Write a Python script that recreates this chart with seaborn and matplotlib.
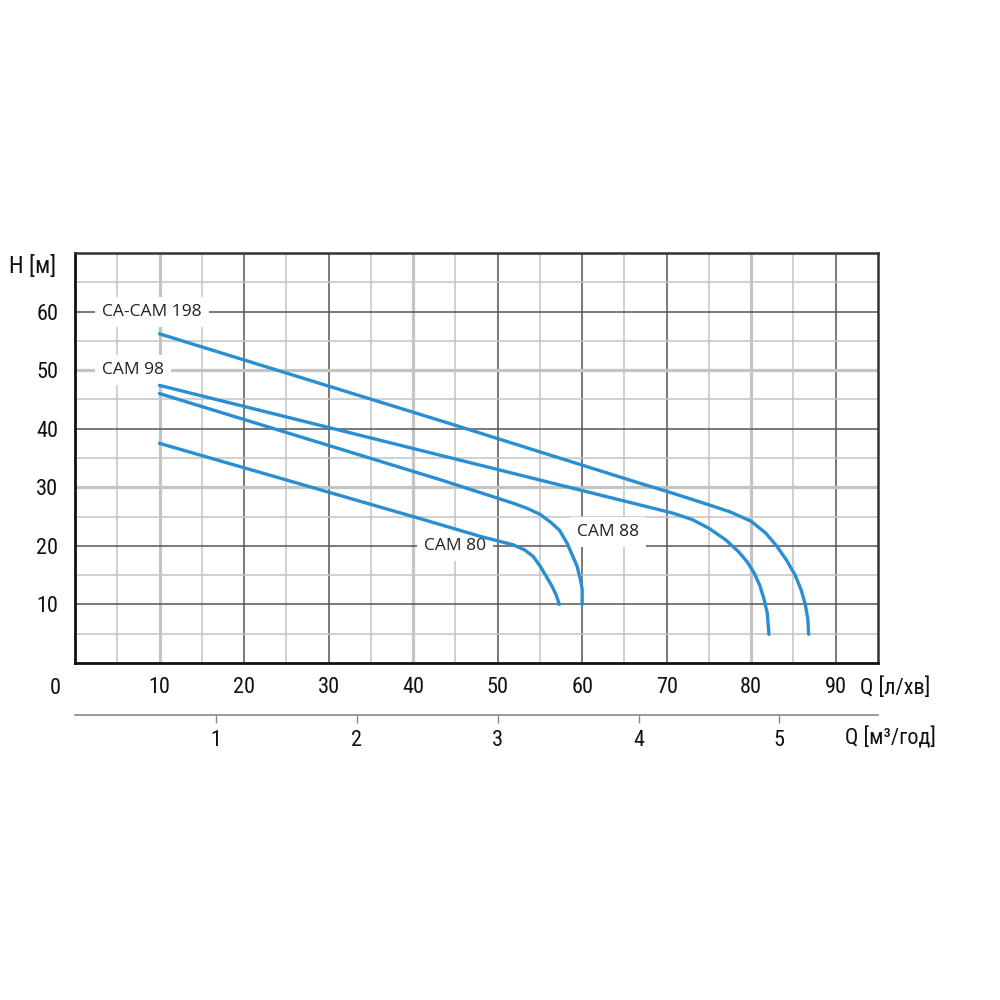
import numpy as np
import pandas as pd
import matplotlib
matplotlib.use("Agg")
import matplotlib.pyplot as plt
from matplotlib import font_manager
import seaborn as sns

# pump curves: Q [l/min] vs H [m]
cam198_q = [10, 44.3, 66.8, 70.7, 75.0, 77.5, 80.0, 81.7, 83.0, 84.2, 85.2, 85.9, 86.4, 86.7, 86.8]
cam198_h = [56.2, 40.9, 30.7, 29.0, 27.0, 25.8, 24.2, 22.2, 20.0, 17.5, 15.0, 12.5, 10.0, 7.5, 4.9]

cam98_q = [10, 66.8, 70.7, 73.0, 75.0, 77.0, 78.5, 79.5, 80.3, 81.0, 81.5, 81.9, 82.1]
cam98_h = [47.4, 27.0, 25.6, 24.5, 23.0, 21.0, 19.0, 17.3, 15.5, 13.3, 11.0, 8.5, 4.9]

cam88_q = [10, 43.2, 51.8, 53.5, 55.0, 56.3, 57.3, 58.2, 58.9, 59.4, 59.7, 59.9, 60.0, 60.0]
cam88_h = [46.0, 31.3, 27.3, 26.4, 25.4, 24.0, 22.7, 20.5, 18.2, 16.5, 14.8, 13.5, 12.5, 10.0]

cam80_q = [10, 40.0, 48.0, 51.8, 53.2, 54.2, 55.0, 55.75, 56.4, 56.9, 57.3]
cam80_h = [37.5, 25.0, 21.6, 20.2, 19.3, 18.2, 16.6, 14.8, 13.2, 11.7, 10.0]

curves = [("CA-CAM 198", cam198_q, cam198_h),
          ("CAM 98", cam98_q, cam98_h),
          ("CAM 88", cam88_q, cam88_h),
          ("CAM 80", cam80_q, cam80_h)]

# label text and where its left edge sits (data coords)
label_names = ["CA-CAM 198", "CAM 98", "CAM 88", "CAM 80"]
label_x = [3.2, 3.2, 59.4, 41.3]
label_y = [60.0, 50.0, 22.4, 20.0]

q_ticks = [10, 20, 30, 40, 50, 60, 70, 80, 90]
h_ticks = [10, 20, 30, 40, 50, 60]
m3_ticks = [1, 2, 3, 4, 5]

sns.set_style("white")

def pick_font():
    names = {f.name for f in font_manager.fontManager.ttflist}
    for cand in ["Liberation Sans Narrow", "Roboto Condensed", "Open Sans Condensed", "Roboto"]:
        if cand in names:
            return cand
    return "DejaVu Sans"

tick_font = pick_font()
plt.rcParams["font.family"] = [tick_font, "DejaVu Sans"]

blue = "#2a8ed4"
dark = "#555555"
light = "#c4c4c4"

fig = plt.figure(figsize=(10, 10), dpi=100)
ax = fig.add_axes([0.075, 0.337, 0.803, 0.41])
ax.set_xlim(0, 95)
ax.set_ylim(0, 70)

# grid: every 5 light, every 10 dark, a few heavier light ones
for v in np.arange(5, 95, 5):
    if v in (10, 40, 80):
        ax.axvline(v, color=light, lw=2.3, zorder=1)
    elif v % 10 == 0:
        ax.axvline(v, color=dark, lw=1.1, zorder=1)
    else:
        ax.axvline(v, color=light, lw=1.1, zorder=1)
for v in np.arange(5, 70, 5):
    if v in (30, 50):
        ax.axhline(v, color=light, lw=2.3, zorder=1)
    elif v % 10 == 0:
        ax.axhline(v, color=dark, lw=1.1, zorder=1)
    else:
        ax.axhline(v, color=light, lw=1.1, zorder=1)

for name, q, h in curves:
    df = pd.DataFrame({"Q": q, "H": h})
    sns.lineplot(data=df, x="Q", y="H", sort=False, estimator=None,
                 color=blue, lw=2.4, ax=ax, zorder=3)
for ln in ax.get_lines():
    ln.set_solid_joinstyle("round")

# labels sit above the grid but under the curves
for name, lx, ly in zip(label_names, label_x, label_y):
    ax.text(lx, ly, name, ha="left", va="center", fontsize=12.5, color="#222222",
            family=["Open Sans", "DejaVu Sans"], zorder=2.5,
            bbox=dict(facecolor="white", edgecolor="none", pad=5))

ax.set_xlabel("")
ax.set_ylabel("")
ax.set_xticks(q_ticks)
ax.set_yticks(h_ticks)
ax.tick_params(axis="both", length=0, labelsize=16, colors="#111111", pad=10)
ax.tick_params(axis="y", pad=12)

for s in ["left", "bottom"]:
    ax.spines[s].set_color("#111111")
    ax.spines[s].set_linewidth(2)
for s in ["top", "right"]:
    ax.spines[s].set_color("#333333")
    ax.spines[s].set_linewidth(1.8)

ax.text(-0.024, -0.062, "0", transform=ax.transAxes, ha="center", va="center",
        fontsize=16, color="#111111")
ax.text(0.978, -0.062, "Q [л/хв]", transform=ax.transAxes, ha="left", va="center",
        fontsize=16, color="#111111")
ax.text(-0.082, 0.968, "H [м]", transform=ax.transAxes, ha="left", va="center",
        fontsize=17, color="#111111")

# second flow scale in m3/h
sec = ax.secondary_xaxis(-0.127, functions=(lambda q: q * 0.06, lambda m: m / 0.06))
sec.set_xticks(m3_ticks)
sec.spines["bottom"].set_color("#888888")
sec.spines["bottom"].set_linewidth(1.2)
sec.tick_params(axis="x", direction="out", length=6, width=1, color="#888888",
                labelsize=16, labelcolor="#111111", pad=5)
ax.text(0.959, -0.183, "Q [м³/год]", transform=ax.transAxes, ha="left", va="center",
        fontsize=16, color="#111111")

fig.savefig("out.png", dpi=100, facecolor="white")
